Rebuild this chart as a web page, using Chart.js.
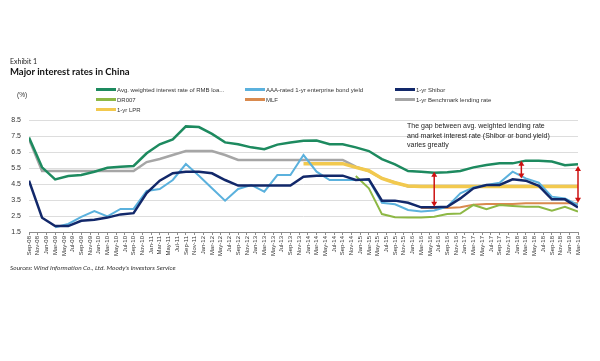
<!DOCTYPE html>
<html>
<head>
<meta charset="utf-8">
<script src="https://cdn.jsdelivr.net/npm/chart.js@4"></script>
<style>
  body { margin:0; background:#fff; }
  #wrap { position:relative; width:600px; height:361px; overflow:hidden; background:#fff; }
  #c { position:absolute; left:0; top:0; }
  .txt { position:absolute; white-space:nowrap; color:#333; }
  .exhibit { left:10px; top:56px; font:7px/10px Lato, sans-serif; color:#222; }
  .title { left:10px; top:66px; font:bold 9.5px/12px Lato, sans-serif; color:#111; }
  .unit { left:17px; top:90px; font:6.5px/10px "Liberation Sans", Arial, sans-serif; }
  .src { left:10px; top:263px; font:italic 6.5px/10px Lato, sans-serif; color:#333; }
  .note { left:407px; top:121px; font:7px/9.5px "Liberation Sans", Arial, sans-serif; color:#222; }
  .leg { position:absolute; font:6px/10px "Liberation Sans", Arial, sans-serif; color:#333; white-space:nowrap; }
  .leg i { display:inline-block; width:20px; height:2.5px; vertical-align:middle; margin-right:1px; position:relative; top:-1px; }
</style>
</head>
<body>
<div id="wrap">
  <canvas id="c" width="600" height="361"></canvas>
  <div class="txt exhibit">Exhibit 1</div>
  <div class="txt title">Major interest rates in China</div>
  <div class="txt unit">(%)</div>
  <div class="txt note">The gap between avg. weighted lending rate<br>and market interest rate (Shibor or bond yield)<br>varies greatly</div>
  <div class="txt src">Sources: Wind Information Co., Ltd. Moody's Investors Service</div>
  <div id="legend"></div>
</div>
<script>
// tick labels, every second month from Sep-08
const tickLabels = [
  "Sep-08","Nov-08","Jan-09","Mar-09","May-09","Jul-09","Sep-09","Nov-09",
  "Jan-10","Mar-10","May-10","Jul-10","Sep-10","Nov-10",
  "Jan-11","Mar-11","May-11","Jul-11","Sep-11","Nov-11",
  "Jan-12","Mar-12","May-12","Jul-12","Sep-12","Nov-12",
  "Jan-13","Mar-13","May-13","Jul-13","Sep-13","Nov-13",
  "Jan-14","Mar-14","May-14","Jul-14","Sep-14","Nov-14",
  "Jan-15","Mar-15","May-15","Jul-15","Sep-15","Nov-15",
  "Jan-16","Mar-16","May-16","Jul-16","Sep-16","Nov-16",
  "Jan-17","Mar-17","May-17","Jul-17","Sep-17","Nov-17",
  "Jan-18","Mar-18","May-18","Jul-18","Sep-18","Nov-18",
  "Jan-19","Mar-19"
];

// quarterly observations, Sep-08 .. Mar-19 (43 quarters)
const avgLoanRate = [7.4,5.54,4.79,5.0,5.06,5.27,5.52,5.58,5.63,6.42,6.98,7.29,8.1,8.06,7.63,7.1,6.98,6.79,6.67,6.96,7.1,
  7.2,7.22,6.98,6.98,6.79,6.56,6.06,5.73,5.31,5.27,5.21,5.23,5.31,5.54,5.69,5.79,5.79,5.96,5.96,5.9,5.67,5.73];
const aaaBondYield = [null,null,1.8,2.0,2.44,2.81,2.48,2.94,2.94,4.06,4.19,4.75,5.75,5.02,4.23,3.46,4.19,4.44,4.02,5.06,5.06,
  6.31,5.27,4.75,4.75,4.75,4.75,3.33,3.23,2.88,2.78,2.84,3.08,3.92,4.29,4.44,4.58,5.27,4.85,4.58,3.71,3.6,3.19];
const shibor1y = [4.71,2.39,1.87,1.87,2.2,2.27,2.4,2.6,2.68,3.93,4.71,5.17,5.27,5.27,5.17,4.75,4.4,4.4,4.4,4.4,4.4,
  4.96,5.02,5.02,5.02,4.75,4.79,3.46,3.46,3.33,3.04,3.04,3.08,3.6,4.23,4.44,4.44,4.79,4.71,4.38,3.54,3.54,3.04];
const dr007 = [null,null,null,null,null,null,null,null,null,null,null,null,null,null,null,null,null,null,null,null,null,
  null,null,null,null,5.0,4.23,2.62,2.42,2.4,2.4,2.46,2.62,2.65,3.19,2.92,3.19,3.13,3.08,3.08,2.83,3.08,2.77];
const mlf = [null,null,null,null,null,null,null,null,null,null,null,null,null,null,null,null,null,null,null,null,null,
  null,null,null,null,null,null,null,null,null,3.0,3.0,3.0,3.05,3.2,3.25,3.25,3.25,3.3,3.3,3.3,3.3,3.3];
const benchmark1y = [7.3,5.31,5.31,5.31,5.31,5.31,5.31,5.31,5.31,5.87,6.06,6.31,6.56,6.56,6.56,6.31,6.0,6.0,6.0,6.0,6.0,
  6.0,6.0,6.0,6.0,5.58,5.31,4.85,4.6,4.35,4.35,4.35,4.35,4.35,4.35,4.35,4.35,4.35,4.35,4.35,4.35,4.35,4.35];
const lpr1y = [null,null,null,null,null,null,null,null,null,null,null,null,null,null,null,null,null,null,null,null,null,
  5.77,5.77,5.77,5.77,5.54,5.33,4.85,4.58,4.38,4.35,4.35,4.35,4.35,4.35,4.35,4.35,4.35,4.35,4.35,4.35,4.35,4.35];

// red gap arrows: month offset from Sep-08, upper and lower value
const gapArrows = [
  { month: 93,  top: 5.27, bottom: 3.08 },
  { month: 113, top: 5.96, bottom: 4.85 },
  { month: 126, top: 5.63, bottom: 3.33 }
];

const series = [
  { label: "1-yr Shibor", data: shibor1y, color: "#12286a", width: 2.5, legend: [395, 85] },
  { label: "AAA-rated 1-yr enterprise bond yield", data: aaaBondYield, color: "#5bb1dd", width: 2, legend: [245, 85] },
  { label: "Avg. weighted interest rate of RMB loa...", data: avgLoanRate, color: "#1d8a5f", width: 2.5, legend: [96, 85] },
  { label: "DR007", data: dr007, color: "#8db845", width: 2, legend: [96, 95] },
  { label: "MLF", data: mlf, color: "#d98a4e", width: 2, legend: [245, 95] },
  { label: "1-yr LPR", data: lpr1y, color: "#f2c94e", width: 3.5, legend: [96, 105] },
  { label: "1-yr Benchmark lending rate", data: benchmark1y, color: "#a6a6a6", width: 2.5, legend: [395, 95] }
];

// html legend
const legendEl = document.getElementById("legend");
series.forEach(s => {
  const d = document.createElement("div");
  d.className = "leg";
  d.style.left = s.legend[0] + "px";
  d.style.top = s.legend[1] + "px";
  d.innerHTML = '<i style="background:' + s.color + '"></i>' + s.label;
  legendEl.appendChild(d);
});

const arrowPlugin = {
  id: "gapArrows",
  afterDatasetsDraw(chart) {
    const ctx = chart.ctx, xs = chart.scales.x, ys = chart.scales.y;
    ctx.save();
    ctx.strokeStyle = "#cc1111";
    ctx.fillStyle = "#cc1111";
    ctx.lineWidth = 1.5;
    gapArrows.forEach(a => {
      const x = xs.getPixelForValue(a.month);
      const y1 = ys.getPixelForValue(a.top);
      const y2 = ys.getPixelForValue(a.bottom);
      ctx.beginPath();
      ctx.moveTo(x, y1 + 4);
      ctx.lineTo(x, y2 - 4);
      ctx.stroke();
      ctx.beginPath();
      ctx.moveTo(x, y1); ctx.lineTo(x - 3, y1 + 5); ctx.lineTo(x + 3, y1 + 5); ctx.closePath();
      ctx.fill();
      ctx.beginPath();
      ctx.moveTo(x, y2); ctx.lineTo(x - 3, y2 - 5); ctx.lineTo(x + 3, y2 - 5); ctx.closePath();
      ctx.fill();
    });
    ctx.restore();
  }
};

new Chart(document.getElementById("c"), {
  type: "line",
  data: {
    datasets: series.map(s => ({
      label: s.label,
      data: s.data.map((v, i) => ({ x: i * 3, y: v })),
      borderColor: s.color,
      backgroundColor: s.color,
      borderWidth: s.width,
      pointRadius: 0,
      tension: 0,
      fill: false
    }))
  },
  options: {
    responsive: false,
    animation: false,
    devicePixelRatio: 1,
    layout: { padding: { left: 9, right: 22, top: 120, bottom: 89 } },
    plugins: { legend: { display: false }, title: { display: false }, tooltip: { enabled: false } },
    scales: {
      x: {
        type: "linear",
        min: 0, max: 126,
        afterFit: s => { s.height = 40; },
        border: { display: true, color: "#8c8c8c", width: 1 },
        grid: { drawOnChartArea: false, drawTicks: true, tickLength: 3, color: "#8c8c8c" },
        ticks: {
          stepSize: 2,
          autoSkip: false,
          maxRotation: 90, minRotation: 90,
          padding: 1,
          color: "#333",
          font: { family: "Liberation Sans", size: 6 },
          callback: v => tickLabels[v / 2] || ""
        }
      },
      y: {
        min: 1.5, max: 8.5,
        afterFit: s => { s.width = 20; },
        border: { display: false },
        grid: { color: "#dddddd", lineWidth: 1, drawTicks: false },
        ticks: {
          stepSize: 1,
          padding: 8,
          color: "#333",
          font: { family: "Liberation Sans", size: 7 },
          callback: v => v.toFixed(1)
        }
      }
    }
  },
  plugins: [arrowPlugin]
});
</script>
</body>
</html>
